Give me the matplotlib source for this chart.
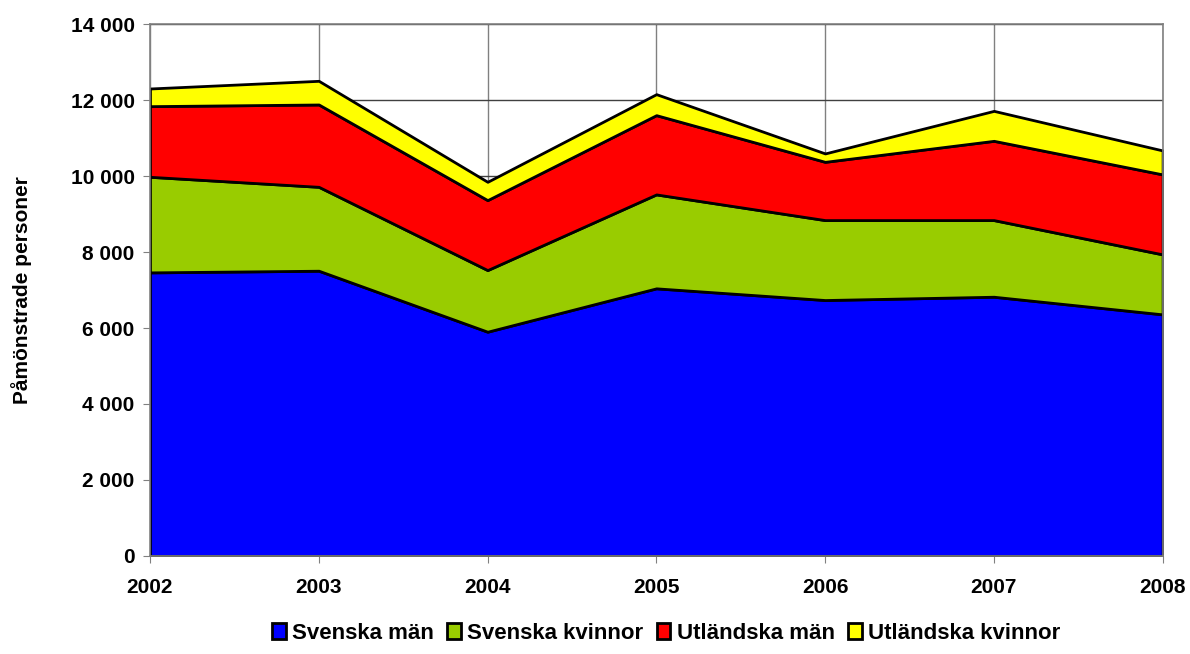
import matplotlib.pyplot as plt
import numpy as np
from matplotlib.ticker import FuncFormatter

plt.rcParams['font.family'] = ['Liberation Sans', 'DejaVu Sans']
plt.rcParams['font.weight'] = 'bold'

years = [2002, 2003, 2004, 2005, 2006, 2007, 2008]
svenska_man = [7465, 7509, 5903, 7045, 6737, 6824, 6360]
svenska_kvinnor = [2517, 2209, 1623, 2473, 2105, 2018, 1579]
utlandska_man = [1860, 2168, 1842, 2087, 1534, 2087, 2106]
utlandska_kvinnor = [465, 623, 482, 553, 221, 789, 631]

labels = ["Svenska män", "Svenska kvinnor", "Utländska män", "Utländska kvinnor"]
colors = ["#0000ff", "#99cc00", "#ff0000", "#ffff00"]

fig = plt.figure(figsize=(11.9, 6.54), dpi=100)
ax = fig.add_axes([0.126, 0.150, 0.851, 0.813])

polys = ax.stackplot(years, svenska_man, svenska_kvinnor, utlandska_man, utlandska_kvinnor,
                     colors=colors, labels=labels, edgecolor="black", linewidth=2, zorder=2)

ax.set_xlim(2002, 2008)
ax.set_ylim(0, 14000)
ax.set_xticks(years)
ax.set_yticks(np.arange(0, 14001, 2000))
ax.yaxis.set_major_formatter(FuncFormatter(lambda v, p: f"{int(v):,}".replace(",", " ")))

ax.grid(axis='x', color="#808080", linewidth=1, zorder=1)
ax.grid(axis='y', color="#404040", linewidth=1, zorder=1)
for s in ax.spines.values():
    s.set_color("#808080")
    s.set_linewidth(1.2)
ax.tick_params(axis='both', labelsize=15, color="#808080", length=5)
ax.tick_params(axis='x', pad=11)
ax.tick_params(axis='y', pad=6)
for lab in ax.get_xticklabels() + ax.get_yticklabels():
    lab.set_fontweight('bold')

ax.set_ylabel("Påmönstrade personer", fontsize=15, fontweight='bold', labelpad=28)

leg = fig.legend(loc='lower center', bbox_to_anchor=(0.56, -0.015), ncol=4, frameon=False,
                 fontsize=16, handlelength=0.6, handleheight=0.7, handletextpad=0.3,
                 columnspacing=0.6)
for t in leg.get_texts():
    t.set_fontweight('bold')

fig.savefig("out.png", dpi=100)
